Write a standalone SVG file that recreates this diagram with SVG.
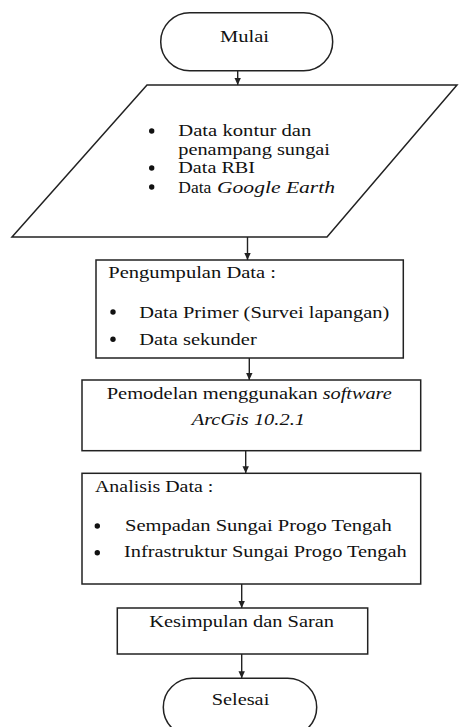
<svg xmlns="http://www.w3.org/2000/svg" width="459" height="727" viewBox="0 0 459 727">
<style>
.shape{fill:#fff;stroke:#222;stroke-width:1.5}
.t{font-family:'Liberation Serif',serif;font-size:16px;fill:#111}
.i{font-style:italic}
.conn{stroke:#222;stroke-width:1.4;fill:none}
.dot{fill:#111}
</style>
<defs>
<marker id="ah" markerUnits="userSpaceOnUse" markerWidth="8" markerHeight="8" refX="7" refY="4" orient="auto">
<path d="M0,0.8 L7,4 L0,7.2 Z" fill="#222"/>
</marker>
</defs>
<rect width="459" height="727" fill="#fff"/>
<g id="connectors">
<line class="conn" x1="237.7" y1="70.7" x2="237.7" y2="85" marker-end="url(#ah)"/>
<line class="conn" x1="247.5" y1="237" x2="247.5" y2="260" marker-end="url(#ah)"/>
<line class="conn" x1="249.3" y1="358" x2="249.3" y2="380" marker-end="url(#ah)"/>
<line class="conn" x1="245.7" y1="451" x2="245.7" y2="473.3" marker-end="url(#ah)"/>
<line class="conn" x1="241.7" y1="584" x2="241.7" y2="608" marker-end="url(#ah)"/>
<line class="conn" x1="241.7" y1="654" x2="241.7" y2="678.3" marker-end="url(#ah)"/>
</g>
<g id="mulai">
<rect class="shape" x="160.7" y="12.7" width="172" height="58" rx="29" ry="29"/>
<text class="t" x="220" y="42" textLength="49" lengthAdjust="spacingAndGlyphs">Mulai</text>
</g>
<g id="input-data">
<polygon class="shape" points="147,85 457,85 327,237 12,237"/>
<circle class="dot" cx="151.7" cy="131" r="2.7"/>
<circle class="dot" cx="151.7" cy="168" r="2.7"/>
<circle class="dot" cx="151.7" cy="187" r="2.7"/>
<text class="t" x="178.3" y="136" textLength="133" lengthAdjust="spacingAndGlyphs">Data kontur dan</text>
<text class="t" x="178.3" y="155" textLength="151.7" lengthAdjust="spacingAndGlyphs">penampang sungai</text>
<text class="t" x="178.3" y="173" textLength="76.7" lengthAdjust="spacingAndGlyphs">Data RBI</text>
<text class="t" x="178.3" y="193" textLength="33" lengthAdjust="spacingAndGlyphs">Data</text>
<text class="t i" x="217" y="193" textLength="118" lengthAdjust="spacingAndGlyphs">Google Earth</text>
</g>
<g id="pengumpulan">
<rect class="shape" x="96" y="260" width="307.3" height="98"/>
<text class="t" x="108.3" y="277.5" textLength="167.7" lengthAdjust="spacingAndGlyphs">Pengumpulan Data :</text>
<circle class="dot" cx="113" cy="312" r="2.7"/>
<circle class="dot" cx="113" cy="339.2" r="2.7"/>
<text class="t" x="139.3" y="318" textLength="250" lengthAdjust="spacingAndGlyphs">Data Primer (Survei lapangan)</text>
<text class="t" x="139.3" y="345" textLength="117.4" lengthAdjust="spacingAndGlyphs">Data sekunder</text>
</g>
<g id="pemodelan">
<rect class="shape" x="82" y="380" width="338.7" height="70.7"/>
<text class="t" x="106.7" y="398.5" textLength="211" lengthAdjust="spacingAndGlyphs">Pemodelan menggunakan</text>
<text class="t i" x="322.7" y="398.5" textLength="69" lengthAdjust="spacingAndGlyphs">software</text>
<text class="t i" x="191.7" y="425" textLength="113.3" lengthAdjust="spacingAndGlyphs">ArcGis 10.2.1</text>
</g>
<g id="analisis">
<rect class="shape" x="82" y="473.3" width="338.7" height="110.7"/>
<text class="t" x="95" y="491.7" textLength="118.3" lengthAdjust="spacingAndGlyphs">Analisis Data :</text>
<circle class="dot" cx="97.3" cy="526" r="2.7"/>
<circle class="dot" cx="97.3" cy="552.7" r="2.7"/>
<text class="t" x="125" y="530.7" textLength="266.7" lengthAdjust="spacingAndGlyphs">Sempadan Sungai Progo Tengah</text>
<text class="t" x="124" y="557.3" textLength="282.7" lengthAdjust="spacingAndGlyphs">Infrastruktur Sungai Progo Tengah</text>
</g>
<g id="kesimpulan">
<rect class="shape" x="117.3" y="608" width="250.4" height="46"/>
<text class="t" x="149.3" y="626.7" textLength="184.7" lengthAdjust="spacingAndGlyphs">Kesimpulan dan Saran</text>
</g>
<g id="selesai">
<rect class="shape" x="163.3" y="678.3" width="153.4" height="58" rx="29" ry="29"/>
<text class="t" x="211.7" y="705" textLength="57.6" lengthAdjust="spacingAndGlyphs">Selesai</text>
</g>
</svg>
